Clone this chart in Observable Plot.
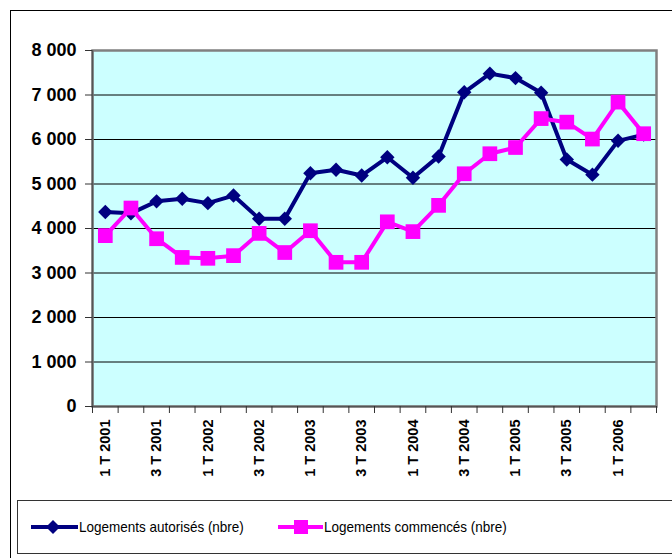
<!DOCTYPE html>
<html>
<head>
<meta charset="utf-8">
<script src="https://cdn.jsdelivr.net/npm/d3@7"></script>
<script src="https://cdn.jsdelivr.net/npm/@observablehq/plot@0.6"></script>
<style>
  html, body { margin: 0; padding: 0; background: #fff; width: 672px; height: 558px; overflow: hidden; }
  #outer { position: absolute; left: 10px; top: 10px; width: 700px; height: 600px; border: 1px solid #000; box-sizing: border-box; }
  #chart { position: absolute; left: 0; top: 0; }
  #legend { position: absolute; left: 17px; top: 500px; width: 700px; height: 54px; border: 1px solid #333; box-sizing: border-box; background: #fff; }
  #legend svg { position: absolute; left: 0; top: 0; }
</style>
</head>
<body>
<div id="outer"></div>
<div id="chart"></div>
<div id="legend"></div>
<script>
const quarters = ["1 T 2001","2 T 2001","3 T 2001","4 T 2001","1 T 2002","2 T 2002","3 T 2002","4 T 2002",
  "1 T 2003","2 T 2003","3 T 2003","4 T 2003","1 T 2004","2 T 2004","3 T 2004","4 T 2004",
  "1 T 2005","2 T 2005","3 T 2005","4 T 2005","1 T 2006","2 T 2006"];
const autorises = [4370, 4340, 4610, 4670, 4570, 4740, 4220, 4220, 5240, 5320, 5190, 5600,
  5140, 5620, 7060, 7480, 7380, 7050, 5550, 5210, 5970, 6110];
const commences = [3840, 4460, 3770, 3350, 3330, 3390, 3890, 3460, 3950, 3240, 3240, 4150,
  3930, 4520, 5230, 5680, 5820, 6470, 6390, 6010, 6840, 6130];
const yTicks = [0, 1000, 2000, 3000, 4000, 5000, 6000, 7000, 8000];
const yTickLabels = ["0", "1 000", "2 000", "3 000", "4 000", "5 000", "6 000", "7 000", "8 000"];
const seriesNames = ["Logements autorisés (nbre)", "Logements commencés (nbre)"];
const seriesColors = ["#000080", "#FF00FF"];

const rowsA = quarters.map((q, i) => ({i: i + 0.5, v: autorises[i]}));
const rowsC = quarters.map((q, i) => ({i: i + 0.5, v: commences[i]}));
const labelPos = quarters.map((q, i) => i).filter(i => i % 2 === 0).map(i => i + 0.5);

const chart = Plot.plot({
  width: 672,
  height: 500,
  marginTop: 50,
  marginRight: 16,
  marginBottom: 94,
  marginLeft: 92,
  style: {background: "transparent", fontFamily: "Liberation Sans, Arial, sans-serif", color: "#000", overflow: "visible"},
  x: {type: "linear", domain: [0, quarters.length]},
  y: {domain: [0, 8000]},
  marks: [
    Plot.frame({fill: "#CCFFFF"}),
    Plot.ruleY(yTicks.slice(1), {stroke: "#000", strokeWidth: 1}),
    Plot.frame({stroke: "#808080", strokeWidth: 2.5}),
    Plot.ruleX([0], {stroke: "#555", strokeWidth: 1.5}),
    Plot.ruleY([0], {stroke: "#555", strokeWidth: 1.5}),
    Plot.axisY({ticks: yTicks, tickSize: 7, tickPadding: 9, tickFormat: (d) => yTickLabels[yTicks.indexOf(d)],
      fontSize: 18, fontWeight: "bold", label: null, stroke: "#333"}),
    Plot.axisX({ticks: d3.range(quarters.length + 1), tickSize: 7, tickFormat: () => "", label: null, stroke: "#333"}),
    Plot.axisX({ticks: labelPos, tickSize: 0, tickPadding: 13, tickRotate: -90,
      tickFormat: (d) => quarters[Math.floor(d)], fontSize: 14.5, fontWeight: "bold", label: null}),
    Plot.line(rowsA, {x: "i", y: "v", stroke: seriesColors[0], strokeWidth: 4}),
    Plot.dot(rowsA, {x: "i", y: "v", symbol: "diamond2", r: 6.5, fill: seriesColors[0], stroke: "none"}),
    Plot.line(rowsC, {x: "i", y: "v", stroke: seriesColors[1], strokeWidth: 4}),
    Plot.dot(rowsC, {x: "i", y: "v", symbol: "square", r: 8.3, fill: seriesColors[1], stroke: "none"})
  ]
});
document.getElementById("chart").appendChild(chart);

// Legend
const lg = d3.select("#legend").append("svg").attr("width", 700).attr("height", 54)
  .style("font-family", "Liberation Sans, Arial, sans-serif");
const items = [
  {x0: 13, x1: 60, cx: 35, tx: 61, sym: "diamond"},
  {x0: 260, x1: 305, cx: 283, tx: 306, sym: "square"}
];
items.forEach((it, k) => {
  lg.append("line").attr("x1", it.x0).attr("x2", it.x1).attr("y1", 26).attr("y2", 26)
    .attr("stroke", seriesColors[k]).attr("stroke-width", 4);
  if (it.sym === "diamond") {
    lg.append("path").attr("d", `M${it.cx},${26-7}L${it.cx+7},26L${it.cx},${26+7}L${it.cx-7},26Z`).attr("fill", seriesColors[k]);
  } else {
    lg.append("rect").attr("x", it.cx - 7).attr("y", 19).attr("width", 14).attr("height", 14).attr("fill", seriesColors[k]);
  }
  lg.append("text").attr("x", it.tx).attr("y", 31.5).attr("font-size", 15).attr("fill", "#000")
    .attr("transform", `translate(${it.tx},0) scale(0.9,1) translate(${-it.tx},0)`)
    .text(seriesNames[k]);
});
</script>
</body>
</html>
